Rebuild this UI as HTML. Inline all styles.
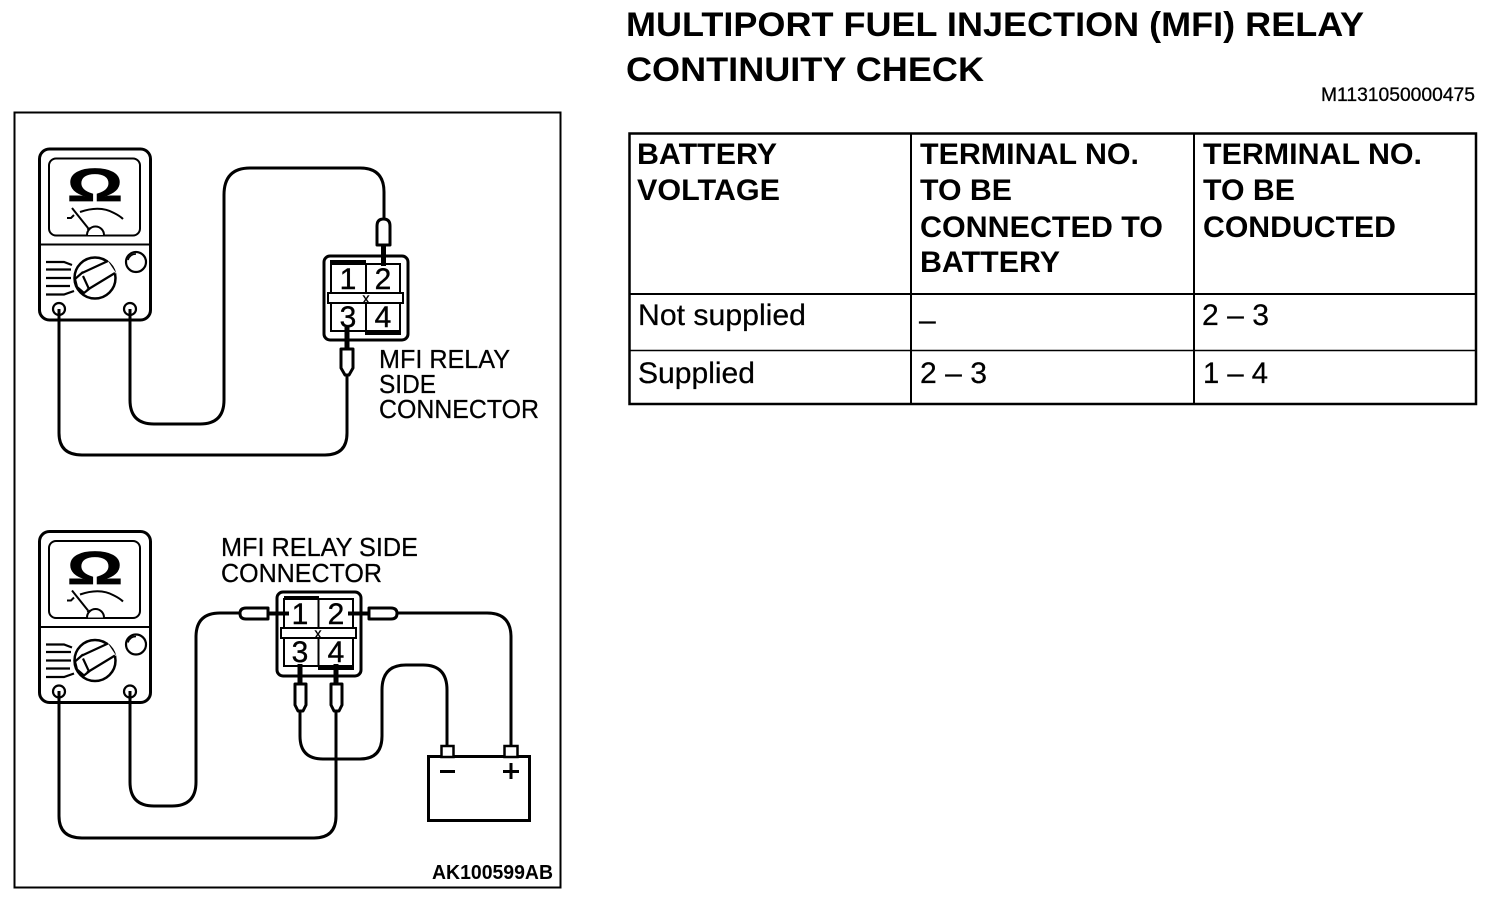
<!DOCTYPE html>
<html>
<head>
<meta charset="utf-8">
<style>
html,body{margin:0;padding:0;background:#fff;width:1504px;height:900px;overflow:hidden}
svg{display:block}
text{font-family:"Liberation Sans",sans-serif;fill:#000}
.b{font-weight:bold}
.w{fill:none;stroke:#000;stroke-width:3}
.t{fill:none;stroke:#000;stroke-width:5}
.p{fill:#fff;stroke:#000;stroke-width:3;stroke-linejoin:round}
.h{font-size:30px;font-weight:bold}
.r{font-size:30px;stroke:#000;stroke-width:.25px}
.l{font-size:26px;stroke:#000;stroke-width:.25px}
.n{font-size:30px;text-anchor:middle;stroke:#000;stroke-width:.4px}
</style>
</head>
<body>
<svg width="1504" height="900" viewBox="0 0 1504 900" xmlns="http://www.w3.org/2000/svg">
<defs>
<g id="meter">
  <rect x="39.500" y="149" width="111" height="171" rx="10" fill="#fff" stroke="#000" stroke-width="3"/>
  <rect x="49" y="158.500" width="91" height="77" rx="7" fill="none" stroke="#000" stroke-width="2"/>
  <line x1="39" y1="244.500" x2="151" y2="244.500" stroke="#000" stroke-width="2"/>
  <path d="M67 218 L71 218 L74 215 M80 212 Q100 205 114 213 Q120 216 123 219" fill="none" stroke="#000" stroke-width="2"/>
  <line x1="72" y1="208" x2="88" y2="228" stroke="#000" stroke-width="2"/>
  <line x1="88" y1="228" x2="92" y2="234" stroke="#000" stroke-width="3"/>
  <path d="M87 235 A8.500 8.500 0 0 1 104 235" fill="#fff" stroke="#000" stroke-width="2"/>
  <circle cx="95" cy="278" r="20.500" fill="#fff" stroke="#000" stroke-width="2.500"/>
  <path d="M82 273 L108 261 L116 273 L87 291 L76 287 Z" fill="#fff" stroke="none"/>
  <path d="M82 273 L108 261 M115 273 L87 290 M83 272 L75 279 L77 287 L84 293 L89 289 L83 276" fill="none" stroke="#000" stroke-width="2.200"/>
  <circle cx="136" cy="262" r="10" fill="#fff" stroke="#000" stroke-width="2.200"/>
  <path d="M128 260 Q130 254 136 254" fill="none" stroke="#000" stroke-width="1.500"/>
  <path d="M46 262 H64 L72 265 M46 269.500 H71 M46 278 H71 M46 286 H70 M46 294.500 H64 L74 291" fill="none" stroke="#000" stroke-width="2.200"/>
  <circle cx="59" cy="309" r="6" fill="#fff" stroke="#000" stroke-width="2.200"/>
  <circle cx="130" cy="309" r="6" fill="#fff" stroke="#000" stroke-width="2.200"/>
</g>
</defs>

<rect x="14.500" y="112.500" width="546" height="775" fill="#fff" stroke="#000" stroke-width="2"/>

<!-- Top diagram -->
<use href="#meter"/>
<path class="w" d="M130 309 V400 Q130 424 154 424 H200 Q224 424 224 400 V195 Q224 168 250 168 H360 Q384 168 384 192 V222"/>
<path class="w" d="M347 373 V433 Q347 455 325 455 H82 Q59 455 59 433 V309"/>
<text class="b" x="67" y="201" font-size="46" stroke="#000" stroke-width=".7" textLength="56" lengthAdjust="spacingAndGlyphs">Ω</text>

<rect x="324" y="256" width="84" height="84" rx="6" fill="#fff" stroke="#000" stroke-width="3"/>
<rect x="331" y="264" width="69" height="67" fill="none" stroke="#000" stroke-width="2"/>
<line x1="366" y1="264" x2="366" y2="331" stroke="#000" stroke-width="2"/>
<rect x="328" y="293" width="75" height="10" fill="#fff" stroke="#000" stroke-width="2"/>
<rect x="330" y="260" width="36" height="5" fill="#000"/>
<rect x="365" y="330" width="36" height="5" fill="#000"/>
<text x="366" y="303" font-size="14" text-anchor="middle" stroke="#000" stroke-width=".4">x</text>
<text class="n" x="348" y="289">1</text>
<text class="n" x="383" y="289">2</text>
<text class="n" x="348" y="327">3</text>
<text class="n" x="383" y="327">4</text>
<line class="t" x1="383.500" y1="245" x2="383.500" y2="266"/>
<line class="t" x1="347" y1="327" x2="347" y2="350"/>
<path class="p" d="M377 245 V226 Q377 219 383.500 219 Q390 219 390 226 V245 Z"/>
<path class="p" d="M341 349 H353 V368 L349 375 H345 L341 368 Z"/>

<text class="l" x="379" y="368" textLength="131" lengthAdjust="spacingAndGlyphs">MFI RELAY</text>
<text class="l" x="379" y="393" textLength="57" lengthAdjust="spacingAndGlyphs">SIDE</text>
<text class="l" x="379" y="418" textLength="160" lengthAdjust="spacingAndGlyphs">CONNECTOR</text>

<!-- Bottom diagram -->
<use href="#meter" y="382.500"/>
<path class="w" d="M130 691 V782 Q130 806 154 806 H172 Q196 806 196 782 V637 Q196 613 220 613 H242"/>
<path class="w" d="M336 710 V816 Q336 838 314 838 H82 Q59 838 59 816 V691"/>
<path class="w" d="M396 613 H487 Q511 613 511 637 V746"/>
<path class="w" d="M300 710 V736 Q300 759 323 759 H360 Q382 759 382 736 V690 Q382 665 406 665 H423 Q447 665 447 690 V746"/>
<text class="b" x="67" y="584" font-size="46" stroke="#000" stroke-width=".7" textLength="56" lengthAdjust="spacingAndGlyphs">Ω</text>

<rect x="277" y="592" width="84" height="84" rx="6" fill="#fff" stroke="#000" stroke-width="3"/>
<rect x="284" y="599" width="69" height="67" fill="none" stroke="#000" stroke-width="2"/>
<line x1="318.500" y1="599" x2="318.500" y2="666" stroke="#000" stroke-width="2"/>
<rect x="281" y="628" width="75" height="10" fill="#fff" stroke="#000" stroke-width="2"/>
<rect x="284" y="596" width="35" height="4" fill="#000"/>
<rect x="318" y="666" width="36" height="4" fill="#000"/>
<text x="318" y="638" font-size="14" text-anchor="middle" stroke="#000" stroke-width=".4">x</text>
<text class="n" x="300" y="624">1</text>
<text class="n" x="336" y="624">2</text>
<text class="n" x="300" y="662">3</text>
<text class="n" x="336" y="662">4</text>
<line class="t" x1="268" y1="613.500" x2="289" y2="613.500" style="stroke-width:4"/>
<line class="t" x1="348" y1="613.500" x2="369" y2="613.500" style="stroke-width:4"/>
<line class="t" x1="300" y1="664" x2="300" y2="684"/>
<line class="t" x1="336" y1="664" x2="336" y2="684"/>
<path class="p" d="M268 608 H246 Q240 608 240 613.500 Q240 619 246 619 H268 Z"/>
<path class="p" d="M369 608 H391 Q397 608 397 613.500 Q397 619 391 619 H369 Z"/>
<path class="p" d="M295 684 H306 V705 L303 711 H298 L295 705 Z"/>
<path class="p" d="M331 684 H342 V705 L339 711 H334 L331 705 Z"/>

<text class="l" x="221" y="556" textLength="197" lengthAdjust="spacingAndGlyphs">MFI RELAY SIDE</text>
<text class="l" x="221" y="582" textLength="161" lengthAdjust="spacingAndGlyphs">CONNECTOR</text>

<rect x="428.500" y="756.500" width="101" height="64" fill="#fff" stroke="#000" stroke-width="3"/>
<rect x="441.500" y="746" width="12" height="11" fill="#fff" stroke="#000" stroke-width="2.500"/>
<rect x="504.500" y="746" width="13" height="11" fill="#fff" stroke="#000" stroke-width="2.500"/>
<rect x="440" y="770" width="15" height="3" fill="#000"/>
<rect x="503" y="770" width="16" height="3" fill="#000"/>
<rect x="509.500" y="763" width="3" height="16" fill="#000"/>

<text class="b" x="432" y="879" font-size="20" textLength="121" lengthAdjust="spacingAndGlyphs">AK100599AB</text>

<!-- Title -->
<text class="b" x="626" y="36" font-size="34" textLength="738" lengthAdjust="spacingAndGlyphs">MULTIPORT FUEL INJECTION (MFI) RELAY</text>
<text class="b" x="626" y="81" font-size="34" textLength="358" lengthAdjust="spacingAndGlyphs">CONTINUITY CHECK</text>
<text x="1321" y="101" font-size="19" stroke="#000" stroke-width=".3" textLength="154" lengthAdjust="spacingAndGlyphs">M1131050000475</text>

<!-- Table -->
<rect x="629.500" y="133.500" width="846.500" height="270.500" fill="#fff" stroke="#000" stroke-width="2.500"/>
<line x1="911" y1="133" x2="911" y2="404" stroke="#000" stroke-width="2"/>
<line x1="1194" y1="133" x2="1194" y2="404" stroke="#000" stroke-width="2"/>
<line x1="629" y1="294" x2="1476" y2="294" stroke="#000" stroke-width="2"/>
<line x1="629" y1="350.500" x2="1476" y2="350.500" stroke="#000" stroke-width="1.500"/>

<text class="h" x="637" y="164" textLength="140" lengthAdjust="spacingAndGlyphs">BATTERY</text>
<text class="h" x="637" y="200" textLength="143" lengthAdjust="spacingAndGlyphs">VOLTAGE</text>

<text class="h" x="920" y="164" textLength="219" lengthAdjust="spacingAndGlyphs">TERMINAL NO.</text>
<text class="h" x="920" y="200" textLength="92" lengthAdjust="spacingAndGlyphs">TO BE</text>
<text class="h" x="920" y="237" textLength="243" lengthAdjust="spacingAndGlyphs">CONNECTED TO</text>
<text class="h" x="920" y="272" textLength="140" lengthAdjust="spacingAndGlyphs">BATTERY</text>

<text class="h" x="1203" y="164" textLength="219" lengthAdjust="spacingAndGlyphs">TERMINAL NO.</text>
<text class="h" x="1203" y="200" textLength="92" lengthAdjust="spacingAndGlyphs">TO BE</text>
<text class="h" x="1203" y="237" textLength="193" lengthAdjust="spacingAndGlyphs">CONDUCTED</text>

<text class="r" x="638" y="325" textLength="168" lengthAdjust="spacingAndGlyphs">Not supplied</text>
<text class="r" x="919" y="330">–</text>
<text class="r" x="1202" y="325" textLength="67" lengthAdjust="spacingAndGlyphs">2 – 3</text>
<text class="r" x="638" y="383" textLength="117" lengthAdjust="spacingAndGlyphs">Supplied</text>
<text class="r" x="920" y="383" textLength="67" lengthAdjust="spacingAndGlyphs">2 – 3</text>
<text class="r" x="1203" y="383" textLength="65" lengthAdjust="spacingAndGlyphs">1 – 4</text>
</svg>
</body>
</html>
